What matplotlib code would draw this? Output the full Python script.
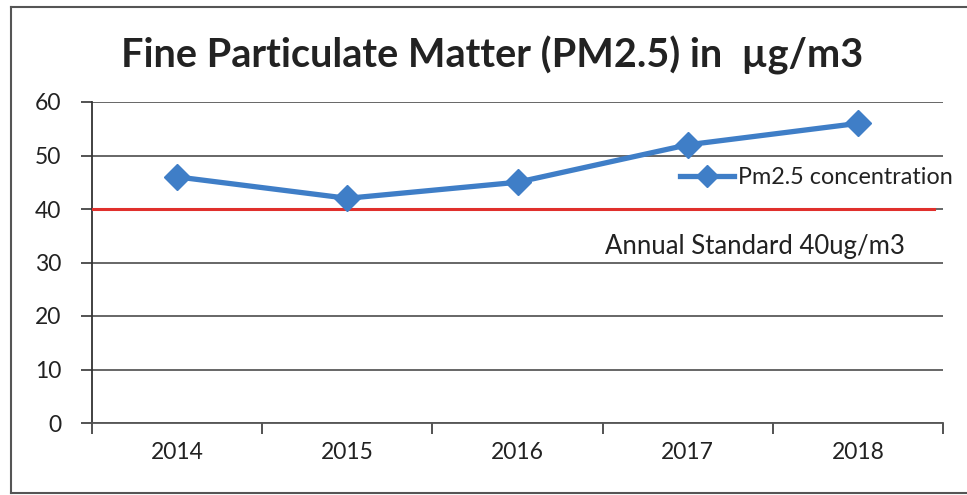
import matplotlib
matplotlib.use("Agg")
import matplotlib.pyplot as plt
from matplotlib.lines import Line2D

years = ["2014", "2015", "2016", "2017", "2018"]
pm25 = [46, 42, 45, 52, 56]
standard = 40
yticks = [0, 10, 20, 30, 40, 50, 60]
title = "Fine Particulate Matter (PM2.5) in  \u00b5g/m3"
series_label = "Pm2.5 concentration"
standard_label = "Annual Standard 40ug/m3"

plt.rcParams['font.family'] = ['Lato', 'DejaVu Sans']

W, H = 967, 495
fig = plt.figure(figsize=(W / 100, H / 100), dpi=100)
ax = fig.add_axes([92 / W, 1 - 423 / H, (943 - 92) / W, (423 - 102) / H])
AW = 943 - 92

x = list(range(len(years)))
ax.set_xlim(-0.5, len(years) - 0.5)
ax.set_ylim(0, 60)
ax.set_yticks(yticks)
ax.set_yticklabels([str(v) for v in yticks])
ax.yaxis.grid(True, color="#5a5a5a", linewidth=1.3)
ax.set_axisbelow(True)

ax.set_xticks([i - 0.5 for i in range(len(years) + 1)])
ax.set_xticklabels([])
ax.set_xticks(x, minor=True)
ax.set_xticklabels(years, minor=True)
ax.tick_params(axis="x", which="major", length=8, width=1.3, color="#444444", direction="out")
ax.tick_params(axis="x", which="minor", length=0, pad=14, labelsize=16.5, labelcolor="#222222")
ax.tick_params(axis="y", length=8, width=1.3, color="#444444", direction="out", pad=14,
               labelsize=16.5, labelcolor="#222222")

for s in ["top", "right"]:
    ax.spines[s].set_visible(False)
ax.spines["left"].set_color("#333333")
ax.spines["left"].set_linewidth(1.3)
ax.spines["bottom"].set_color("#555555")
ax.spines["bottom"].set_linewidth(1.3)

ax.plot([-0.5, 4.45], [standard, standard], color="#e0302c", linewidth=2.2, zorder=3)
line, = ax.plot(x, pm25, color="#3f7ec7", linewidth=3.8, marker="D", markersize=13,
                markerfacecolor="#3f7ec7", markeredgecolor="#3f7ec7", zorder=4,
                label=series_label, clip_on=False)

leg = ax.legend(handles=[line], loc="center left", bbox_to_anchor=((680 - 92) / AW, 45.8 / 60),
                frameon=False, fontsize=16.8, handlelength=2.3, handletextpad=0.2,
                borderaxespad=0, borderpad=0, markerscale=0.85)
for t in leg.get_texts():
    t.set_color("#222222")

ax.text((605 - 92) / AW, 32.9 / 60, standard_label, fontsize=18.5, color="#222222",
        va="center", ha="left", transform=ax.transAxes)

fig.text(492 / W, 1 - 55 / H, title, fontsize=28.5, fontweight="bold", color="#222222",
         ha="center", va="center")

bc = "#555555"
fig.add_artist(Line2D([11 / W, 11 / W], [1 - 7 / H, 1 - 493 / H], color=bc, linewidth=1.5))
fig.add_artist(Line2D([11 / W, 1.0], [1 - 7 / H, 1 - 7 / H], color=bc, linewidth=1.5))
fig.add_artist(Line2D([11 / W, 1.0], [1 - 493 / H, 1 - 493 / H], color=bc, linewidth=1.5))

fig.savefig("out.png", dpi=100)
